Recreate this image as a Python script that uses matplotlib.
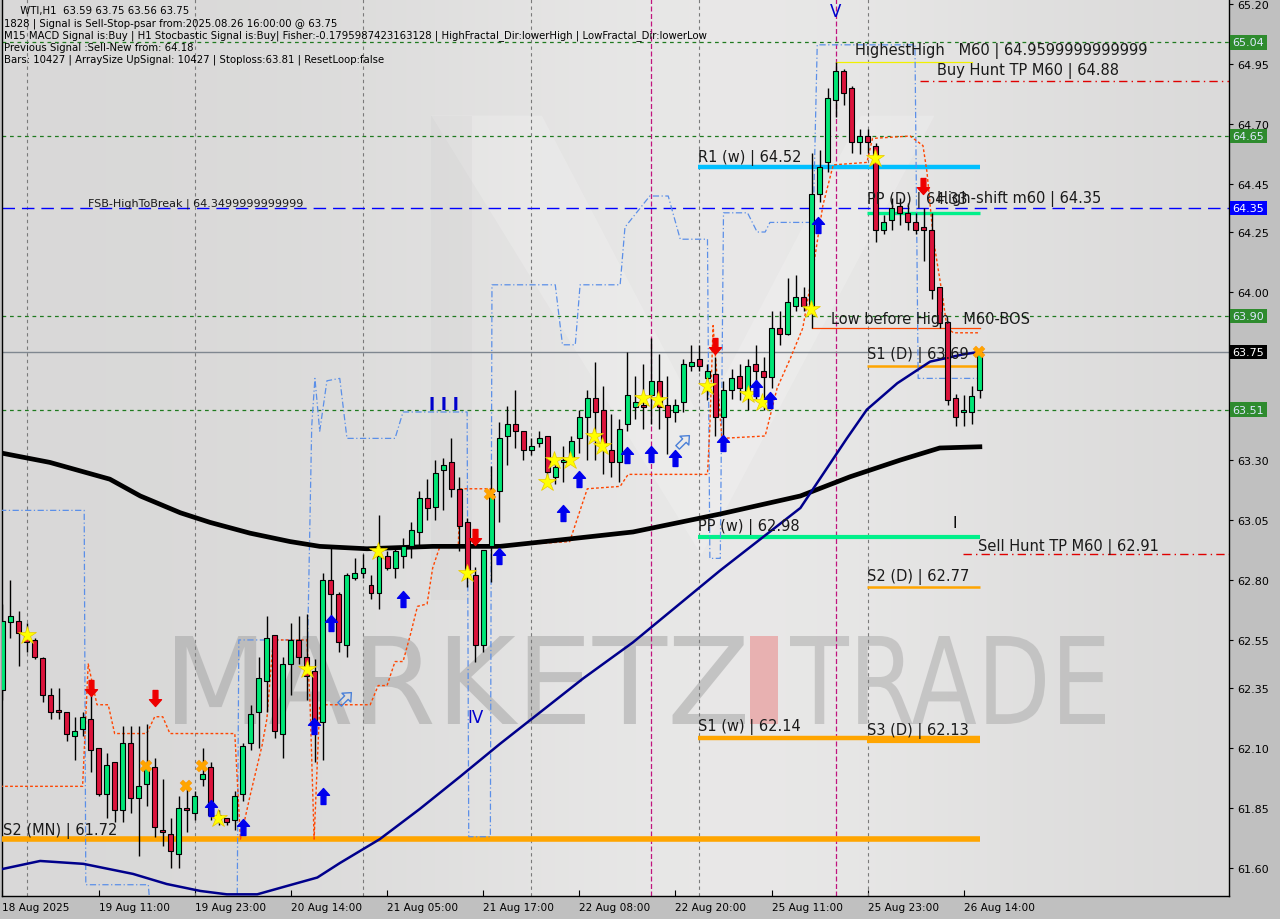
import numpy as np
import matplotlib
matplotlib.use("Agg")
import matplotlib.pyplot as plt
from matplotlib.path import Path
from matplotlib.patches import PathPatch, Rectangle, Polygon
from matplotlib.textpath import TextPath
from matplotlib.font_manager import FontProperties
import matplotlib.transforms as mtransforms

# ---------------- data ----------------
opens = [62.34, 62.625, 62.63, 62.58, 62.55, 62.475, 62.32, 62.26, 62.25, 62.15,
         62.18, 62.22, 62.10, 61.91, 62.04, 61.84, 62.12, 61.89, 61.95, 62.02,
         61.76, 61.74, 61.66, 61.85, 61.83, 61.97, 62.02, 61.82, 61.81, 61.80,
         61.91, 62.12, 62.25, 62.38, 62.57, 62.16, 62.45, 62.55, 62.48, 62.42,
         62.21, 62.80, 62.74, 62.53, 62.81, 62.83, 62.78, 62.745, 62.90, 62.85,
         62.90, 62.94, 63.00, 63.14, 63.105, 63.26, 63.29, 63.18, 63.04, 62.82,
         62.53, 62.94, 63.17, 63.40, 63.45, 63.42, 63.34, 63.37, 63.40, 63.23,
         63.29, 63.31, 63.39, 63.48, 63.56, 63.51, 63.34, 63.29, 63.45, 63.52,
         63.53, 63.57, 63.63, 63.53, 63.50, 63.54, 63.69, 63.72, 63.64, 63.66,
         63.48, 63.59, 63.65, 63.58, 63.70, 63.67, 63.645, 63.85, 63.825, 63.94,
         63.98, 63.94, 64.41, 64.54, 64.80, 64.92, 64.85, 64.625, 64.65, 64.61,
         64.26, 64.30, 64.36, 64.33, 64.29, 64.27, 64.26, 64.02, 63.875, 63.56,
         63.50, 63.50, 63.59]
highs = [62.70, 62.80, 62.67, 62.62, 62.56, 62.48, 62.35, 62.35, 62.25, 62.23,
         62.25, 62.33, 62.10, 62.08, 62.04, 62.19, 62.19, 62.19, 62.20, 62.06,
         61.97, 61.81, 61.90, 61.96, 61.92, 62.10, 62.04, 61.84, 61.81, 61.92,
         62.12, 62.28, 62.48, 62.65, 62.57, 62.48, 62.62, 62.65, 62.66, 62.47,
         62.83, 62.94, 62.75, 62.83, 62.89, 62.91, 62.82, 63.07, 62.92, 62.93,
         62.975, 63.04, 63.17, 63.22, 63.30, 63.31, 63.39, 63.23, 63.06, 62.855,
         62.925, 63.275, 63.46, 63.525, 63.59, 63.42, 63.39, 63.42, 63.40, 63.30,
         63.36, 63.40, 63.51, 63.59, 63.71, 63.61, 63.49, 63.47, 63.75, 63.65,
         63.70, 63.81, 63.74, 63.65, 63.555, 63.72, 63.78, 63.78, 63.70, 63.73,
         63.63, 63.68, 63.70, 63.72, 63.78, 63.73, 63.92, 63.92, 64.06, 64.07,
         64.02, 64.58, 64.59, 64.85, 64.96, 64.93, 64.86, 64.68, 64.68, 64.62,
         64.32, 64.39, 64.39, 64.37, 64.33, 64.35, 64.33, 64.02, 63.88, 63.575,
         63.57, 63.61, 63.75]
lows = [62.30, 62.56, 62.44, 62.50, 62.47, 62.29, 62.22, 62.22, 62.13, 62.05,
        62.15, 62.00, 61.90, 61.81, 61.79, 61.79, 61.83, 61.65, 61.86, 61.73,
        61.69, 61.60, 61.60, 61.75, 61.80, 61.94, 61.80, 61.78, 61.78, 61.76,
        61.88, 62.09, 62.10, 62.25, 62.14, 62.06, 62.32, 62.45, 62.30, 62.04,
        62.05, 62.63, 62.50, 62.48, 62.80, 62.81, 62.72, 62.68, 62.84, 62.81,
        62.85, 62.89, 62.94, 63.05, 63.05, 63.09, 63.145, 62.92, 62.77, 62.46,
        62.50, 62.79, 63.04, 63.28, 63.35, 63.30, 63.32, 63.355, 63.21, 63.20,
        63.21, 63.29, 63.33, 63.30, 63.30, 63.24, 63.23, 63.21, 63.42, 63.47,
        63.43, 63.45, 63.43, 63.325, 63.46, 63.50, 63.67, 63.67, 63.55, 63.40,
        63.40, 63.555, 63.55, 63.51, 63.555, 63.51, 63.60, 63.78, 63.82, 63.92,
        63.92, 63.85, 64.375, 64.50, 64.73, 64.78, 64.58, 64.575, 64.58, 64.21,
        64.24, 64.26, 64.28, 64.26, 64.24, 64.13, 63.97, 63.85, 63.53, 63.44,
        63.44, 63.45, 63.56]
closes = [62.63, 62.65, 62.58, 62.54, 62.48, 62.32, 62.25, 62.25, 62.16, 62.17,
          62.23, 62.09, 61.91, 62.03, 61.84, 62.12, 61.89, 61.94, 62.02, 61.77,
          61.75, 61.67, 61.85, 61.84, 61.90, 61.99, 61.82, 61.80, 61.79, 61.90,
          62.11, 62.24, 62.39, 62.56, 62.17, 62.45, 62.55, 62.48, 62.40, 62.21,
          62.80, 62.74, 62.54, 62.82, 62.83, 62.85, 62.745, 62.90, 62.85, 62.92,
          62.94, 63.01, 63.14, 63.10, 63.245, 63.28, 63.18, 63.025, 62.82, 62.53,
          62.925, 63.16, 63.39, 63.45, 63.42, 63.34, 63.36, 63.39, 63.25, 63.27,
          63.30, 63.38, 63.48, 63.56, 63.50, 63.36, 63.29, 63.43, 63.57, 63.54,
          63.52, 63.63, 63.52, 63.48, 63.53, 63.70, 63.71, 63.69, 63.67, 63.48,
          63.59, 63.64, 63.60, 63.69, 63.67, 63.645, 63.85, 63.825, 63.96, 63.98,
          63.94, 64.41, 64.52, 64.81, 64.92, 64.83, 64.625, 64.65, 64.625, 64.26,
          64.29, 64.35, 64.33, 64.29, 64.26, 64.26, 64.01, 63.87, 63.55, 63.48,
          63.51, 63.565, 63.75]

x_tick_bars = [0, 12, 24, 36, 48, 60, 72, 84, 96, 108, 120]
x_tick_labels = ["18 Aug 2025", "19 Aug 11:00", "19 Aug 23:00", "20 Aug 14:00",
                 "21 Aug 05:00", "21 Aug 17:00", "22 Aug 08:00", "22 Aug 20:00",
                 "25 Aug 11:00", "25 Aug 23:00", "26 Aug 14:00"]
price_ticks = [65.20, 64.95, 64.70, 64.45, 64.25, 64.00, 63.30, 63.05, 62.80,
               62.55, 62.35, 62.10, 61.85, 61.60]

# slow moving average (black) and fast moving average (navy)
ma_slow_bars = [-0.3, 5.9, 13.4, 17.2, 22.2, 25.9, 30.9, 35.9, 39.6, 45.5, 53.7,
                62.1, 70.5, 78.7, 89.6, 99.6, 105.8, 112.1, 117.0, 122.0]
ma_slow_vals = [63.33, 63.29, 63.22, 63.15, 63.08, 63.04, 62.995, 62.96, 62.94,
                62.93, 62.94, 62.94, 62.97, 63.00, 63.075, 63.15, 63.23, 63.30,
                63.35, 63.355]
ma_fast_bars = [0.06, 4.7, 10.1, 16.3, 20.5, 24.7, 28.0, 31.8, 35.0, 39.3, 42.1,
                47.1, 52.1, 57.1, 62.1, 72.5, 78.7, 89.6, 94.6, 99.6, 105.4,
                107.9, 111.7, 115.8, 119.9, 121.9]
ma_fast_vals = [61.596, 61.629, 61.617, 61.575, 61.533, 61.504, 61.49, 61.49,
                61.52, 61.56, 61.62, 61.72, 61.846, 61.98, 62.117, 62.39, 62.54,
                62.84, 62.97, 63.10, 63.39, 63.51, 63.62, 63.71, 63.74, 63.75]

# trailing stop (orange-red dotted)
trail_bars = [-0.3, 10.0, 10.7, 11.8, 13.2, 14.0, 18.0, 19.0, 20.0, 20.9, 29.0,
              29.7, 30.9, 32.4, 33.0, 33.8, 38.0, 38.4, 38.9, 39.6, 45.9, 46.9,
              48.0, 49.0, 50.0, 50.9, 51.8, 53.0, 53.7, 54.6, 56.9, 57.1, 60.9,
              61.2, 70.8, 73.0, 77.1, 78.1, 88.0, 88.3, 88.7, 89.8, 95.2, 96.7,
              98.3, 99.9, 101.1, 102.4, 103.7, 107.9, 108.6, 113.3, 114.9,
              115.4, 116.2, 117.4, 117.9, 118.7, 121.8]
trail_vals = [61.94, 61.94, 62.45, 62.28, 62.28, 62.16, 62.16, 62.23, 62.23,
              62.16, 62.16, 61.72, 61.90, 62.11, 62.22, 62.55, 62.55, 62.28,
              61.72, 62.28, 62.28, 62.36, 62.36, 62.46, 62.46, 62.57, 62.69,
              62.70, 62.85, 62.94, 62.94, 63.18, 63.18, 62.94, 62.96, 63.18,
              63.19, 63.24, 63.24, 63.44, 63.86, 63.39, 63.40, 63.60, 63.72,
              63.85, 64.08, 64.36, 64.53, 64.54, 64.64, 64.65, 64.61, 64.50,
              64.22, 63.97, 63.85, 63.83, 63.83]

# fractal channel (light blue dash-dot)
chan_bars = [-0.3, 10.2, 10.4, 18.2, 18.4, 29.3, 29.5, 38.1, 38.6, 39.0, 39.6,
             40.5, 42.1, 43.0, 49.0, 50.0, 58.0, 58.2, 60.9, 61.1, 69.0, 69.9,
             71.5, 72.1, 77.1, 77.7, 80.8, 83.1, 84.6, 88.0, 88.3, 89.6, 90.0,
             93.0, 94.2, 95.2, 95.8, 101.2, 101.7, 113.9, 114.3, 121.8]
chan_vals = [63.09, 63.09, 61.53, 61.53, 61.45, 61.45, 62.55, 62.55, 63.44,
             63.64, 63.42, 63.63, 63.64, 63.39, 63.39, 63.50, 63.50, 61.73,
             61.73, 64.03, 64.03, 63.78, 63.78, 64.03, 64.03, 64.27, 64.40,
             64.40, 64.22, 64.22, 62.89, 62.89, 64.33, 64.33, 64.25, 64.25,
             64.29, 64.29, 65.03, 65.03, 63.64, 63.64]

star_bars = [3.1, 26.9, 38.0, 46.9, 58.0, 68.0, 68.9, 70.9, 73.8, 74.8, 80.0,
             81.8, 88.0, 93.0, 94.8, 100.9, 108.9]
star_vals = [62.57, 61.81, 62.43, 62.92, 62.83, 63.21, 63.30, 63.30, 63.40,
             63.36, 63.56, 63.55, 63.61, 63.575, 63.54, 63.93, 64.56]
buy_arrow_bars = [26.0, 30.0, 38.9, 40.0, 41.0, 50.0, 62.0, 70.0, 72.0, 78.0,
                  81.0, 84.0, 90.0, 94.0, 95.8, 101.8]
buy_arrow_vals = [61.85, 61.77, 62.19, 61.90, 62.62, 62.72, 62.90, 63.08, 63.22,
                  63.32, 63.325, 63.31, 63.37, 63.60, 63.55, 64.28]
sell_arrow_bars = [11.1, 19.0, 59.0, 89.0, 114.9]
sell_arrow_vals = [62.35, 62.31, 62.98, 63.775, 64.44]
cross_bars = [17.9, 22.9, 24.9, 60.9, 121.9]
cross_vals = [62.025, 61.94, 62.025, 63.16, 63.75]
hollow_bars = [42.8, 85.0]
hollow_vals = [62.31, 63.38]

grid_levels = [65.04, 64.65, 63.90, 63.51]
fsb_level = 64.35
last_price = 63.75
separator_bars = [3, 24, 45, 66, 87, 108]
magenta_bars = [81, 104]

info_lines = ["     WTI,H1  63.59 63.75 63.56 63.75",
              "1828 | Signal is Sell-Stop-psar from:2025.08.26 16:00:00 @ 63.75",
              "M15 MACD Signal is:Buy | H1 Stocbastic Signal is:Buy| Fisher:-0.1795987423163128 | HighFractal_Dir:lowerHigh | LowFractal_Dir:lowerLow",
              "Previous Signal :Sell-New from: 64.18",
              "Bars: 10427 | ArraySize UpSignal: 10427 | Stoploss:63.81 | ResetLoop:false"]

# ---------------- figure ----------------
W, H = 1280, 920
fig = plt.figure(figsize=(W / 100, H / 100), dpi=100, facecolor="#c0c0c0")
ax = fig.add_axes([2 / W, 23 / H, 1227 / W, 897 / H])
XMIN, XMAX = -0.06, 153.1
YMIN, YMAX = 61.483, 65.221

# background gradient
gx = np.linspace(0, 1, 256)
base = 0.855 + 0.06 * np.exp(-((gx - 0.6) / 0.28) ** 2)
bg = np.dstack([base - 0.004, base - 0.006, base - 0.008])
ax.imshow(bg, extent=[0, 1, 0, 1], transform=ax.transAxes, aspect="auto",
          zorder=0, interpolation="bilinear")

# faint logo shapes
ax.add_patch(Polygon([(0.35, 0.87), (0.44, 0.87), (0.57, 0.53), (0.70, 0.87),
                      (0.76, 0.87), (0.57, 0.38)], closed=True,
                     transform=ax.transAxes, fc="white", ec="none", alpha=0.18,
                     zorder=0.5))
ax.add_patch(Polygon([(0.35, 0.87), (0.383, 0.87), (0.383, 0.33), (0.35, 0.33)],
                     closed=True, transform=ax.transAxes, fc="#c8c8c8",
                     ec="none", alpha=0.18, zorder=0.5))


def fx(px):
    return (px - 2) / 1227


def fy(py):
    return (897 - py) / 897


def word_patch(text, x0, y0, x1, y1, color, alpha):
    tp = TextPath((0, 0), text, size=1, prop=FontProperties(family="DejaVu Sans"))
    ext = tp.get_extents()
    sx = (x1 - x0) / ext.width
    sy = (y1 - y0) / ext.height
    tr = (mtransforms.Affine2D().translate(-ext.x0, -ext.y0).scale(sx, sy)
          .translate(x0, y0) + ax.transAxes)
    ax.add_patch(PathPatch(tp, fc=color, ec="none", alpha=alpha, transform=tr,
                           zorder=1))


word_patch("MARKETZ", fx(175), fy(725), fx(745), fy(637), "#a0a0a0", 0.5)
word_patch("TRADE", fx(790), fy(725), fx(1105), fy(637), "#a8a8a8", 0.5)
ax.add_patch(Rectangle((fx(750), fy(725)), fx(778) - fx(750), fy(637) - fy(725),
                       transform=ax.transAxes, fc="#e89a9a", ec="none",
                       alpha=0.7, zorder=1))

# separators
for b in separator_bars:
    ax.axvline(b, color="#7a7a7a", lw=0.8, ls=(0, (3, 3)), zorder=2)
for b in magenta_bars:
    ax.axvline(b, color="#c0147e", lw=0.9, ls=(0, (4, 2)), zorder=2)

# horizontal levels
for lv in grid_levels:
    ax.axhline(lv, color="#1f7a1f", lw=0.9, ls=(0, (3, 3)), zorder=2)
ax.axhline(fsb_level, color="#0000ff", lw=1.0, ls=(0, (9, 5)), zorder=2)
ax.axhline(last_price, color="#7f8790", lw=1.0, zorder=2)

# pivot segments
end_bar = 122.0
seg = dict(zorder=3, solid_capstyle="butt")
ax.plot([86.8, end_bar], [64.52, 64.52], color="#00bfff", lw=3.2, **seg)
ax.plot([86.8, end_bar], [62.98, 62.98], color="#00f08a", lw=3.0, **seg)
ax.plot([86.8, end_bar], [62.14, 62.14], color="#ffa500", lw=3.2, **seg)
ax.plot([107.9, end_bar], [64.33, 64.33], color="#00f08a", lw=2.4, **seg)
ax.plot([107.9, end_bar], [63.69, 63.69], color="#ffa500", lw=1.8, **seg)
ax.plot([107.9, end_bar], [62.77, 62.77], color="#ffa500", lw=1.8, **seg)
ax.plot([107.9, end_bar], [62.13, 62.13], color="#ffa500", lw=3.0, **seg)
ax.plot([XMIN, end_bar], [61.72, 61.72], color="#ffa500", lw=4.0, **seg)
ax.plot([104.0, 121.0], [64.96, 64.96], color="#f0f000", lw=0.9, zorder=3)
ax.plot([101.0, end_bar], [63.85, 63.85], color="#ff4500", lw=0.9, zorder=3)
ax.plot([114.5, XMAX], [64.88, 64.88], color="#e00000", lw=1.0,
        ls=(0, (6, 3, 1, 3)), zorder=3)
ax.plot([119.9, XMAX], [62.91, 62.91], color="#e00000", lw=1.0,
        ls=(0, (6, 3, 1, 3)), zorder=3)

# indicator lines
ax.plot(chan_bars, chan_vals, color="#5b8fe8", lw=0.9, ls=(0, (5, 2, 1, 2)),
        zorder=3)
ax.plot(trail_bars, trail_vals, color="#ff4500", lw=1.0, ls=(0, (2, 1.6)),
        zorder=3)
ax.plot(ma_slow_bars, ma_slow_vals, color="black", lw=3.4, zorder=4)
ax.plot(ma_fast_bars, ma_fast_vals, color="#00008b", lw=1.8, zorder=4)

# candles
xs = np.arange(len(opens))
o = np.array(opens); c = np.array(closes)
hi = np.array(highs); lo = np.array(lows)
ax.vlines(xs, lo, hi, color="black", lw=1.0, zorder=5)
up = c >= o
body_bottom = np.minimum(o, c)
body_h = np.maximum(np.abs(c - o), 0.008)
ax.bar(xs[up], body_h[up], bottom=body_bottom[up], width=0.62, color="#00e676",
       edgecolor="black", linewidth=0.8, zorder=6)
ax.bar(xs[~up], body_h[~up], bottom=body_bottom[~up], width=0.62,
       color="#dc143c", edgecolor="black", linewidth=0.8, zorder=6)

# markers
up_arrow = Path([(0, 1), (-0.75, 0.15), (-0.3, 0.15), (-0.3, -1), (0.3, -1),
                 (0.3, 0.15), (0.75, 0.15), (0, 1)],
                [Path.MOVETO] + [Path.LINETO] * 6 + [Path.CLOSEPOLY])
down_arrow = Path(up_arrow.vertices * np.array([1, -1]), up_arrow.codes)
diag_arrow = up_arrow.transformed(mtransforms.Affine2D().rotate_deg(-45))

ax.plot(star_bars, star_vals, ls="none", marker="*", ms=13.5, color="#ffff00",
        mec="#e8c800", mew=0.5, zorder=7)
ax.plot(buy_arrow_bars, buy_arrow_vals, ls="none", marker=up_arrow, ms=11.5,
        color="#0000ee", mec="#0000ee", zorder=7)
ax.plot(sell_arrow_bars, sell_arrow_vals, ls="none", marker=down_arrow, ms=11.5,
        color="#ee0000", mec="#ee0000", zorder=7)
ax.plot(cross_bars, cross_vals, ls="none", marker="X", ms=9, color="#ffa500",
        mec="#ff9000", mew=0.3, zorder=7)
ax.plot(hollow_bars, hollow_vals, ls="none", marker=diag_arrow, ms=11,
        mfc="none", mec="#4a80d8", mew=1.0, zorder=7)

# chart texts
lab = dict(fontsize=10.5, color="#1a1a1a", zorder=8, va="baseline",
           family="DejaVu Sans")
ax.text(86.8, 64.546, "R1 (w) | 64.52", **lab)
ax.text(107.9, 64.37, "PP (D) | 64.33", **lab)
ax.text(116.7, 64.375, "High-shift m60 | 64.35", **lab)
ax.text(106.4, 64.99, "HighestHigh   M60 | 64.9599999999999", **lab)
ax.text(116.7, 64.91, "Buy Hunt TP M60 | 64.88", **lab)
ax.text(103.4, 63.87, "Low before High   M60-BOS", **lab)
ax.text(107.9, 63.725, "S1 (D) | 63.69", **lab)
ax.text(86.8, 63.01, "PP (w) | 62.98", **lab)
ax.text(121.8, 62.925, "Sell Hunt TP M60 | 62.91", **lab)
ax.text(107.9, 62.80, "S2 (D) | 62.77", **lab)
ax.text(86.8, 62.175, "S1 (w) | 62.14", **lab)
ax.text(107.9, 62.16, "S3 (D) | 62.13", **lab)
ax.text(0.1, 61.74, "S2 (MN) | 61.72", **lab)
ax.text(10.7, 64.36, "FSB-HighToBreak | 64.3499999999999", fontsize=8,
        color="#1a1a1a", va="baseline", zorder=8)
ax.text(104.0, 65.17, "V", fontsize=12, color="#0000cc", ha="center",
        va="center", zorder=8)
ax.text(59.0, 62.23, "IV", fontsize=12, color="#0000cc", ha="center",
        va="center", zorder=8)
ax.text(55.1, 63.535, "I I I", fontsize=12, color="#0000cc", ha="center",
        va="center", zorder=8, fontweight="bold")
ax.text(118.9, 63.04, "I", fontsize=11, color="black", ha="center",
        va="center", zorder=8)

for i, line in enumerate(info_lines):
    ax.text(0.0015, 1 - (6 + 12.2 * i) / 897, line, transform=ax.transAxes,
            fontsize=7.3, color="black", va="top", ha="left", zorder=9)

# axes
ax.set_xlim(XMIN, XMAX)
ax.set_ylim(YMIN, YMAX)
ax.yaxis.tick_right()
ax.set_yticks(price_ticks)
ax.set_yticklabels([f"{p:.2f}" for p in price_ticks])
ax.tick_params(axis="y", direction="out", length=3, pad=3, labelsize=8,
               colors="black")
ax.set_xticks(x_tick_bars)
ax.set_xticklabels(x_tick_labels, ha="left")
ax.tick_params(axis="x", direction="in", length=4, pad=4, labelsize=7.6,
               colors="black")
for lbl in ax.get_xticklabels():
    lbl.set_horizontalalignment("left")
ax.spines["top"].set_visible(False)
for s in ["left", "right", "bottom"]:
    ax.spines[s].set_color("black")
    ax.spines[s].set_linewidth(1.0)

# right-axis price boxes
btr = mtransforms.blended_transform_factory(ax.transAxes, ax.transData)
boxes = [(65.04, "#2e8b2e", "#dfe8ff"), (64.65, "#2e8b2e", "#dfe8ff"),
         (64.35, "#0000ff", "white"), (63.90, "#2e8b2e", "#dfe8ff"),
         (63.75, "black", "white"), (63.51, "#2e8b2e", "#dfe8ff")]
for val, fc, tc in boxes:
    ax.text(1.0028, val, f"{val:.2f}", transform=btr, fontsize=8, color=tc,
            va="center", ha="left", zorder=10, clip_on=False,
            bbox=dict(boxstyle="square,pad=0.22", fc=fc, ec="none"))

fig.savefig("out.png", dpi=100, facecolor=fig.get_facecolor())
